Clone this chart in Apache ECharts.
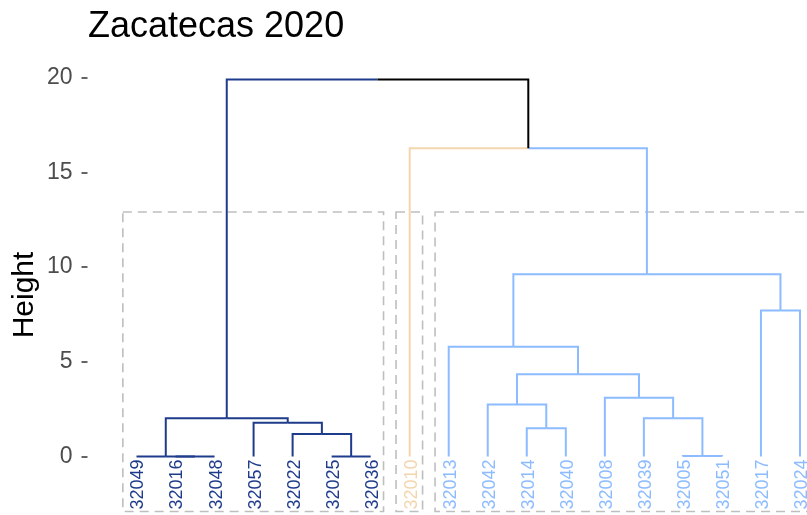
<!DOCTYPE html>
<html><head><meta charset="utf-8">
<script src="https://cdn.jsdelivr.net/npm/echarts@6/dist/echarts.min.js"></script>
<style>html,body{margin:0;padding:0;background:#fff}#c{width:807px;height:515px}</style>
</head><body><div id="c"></div>
<script>
// ---- data ----
const leafLabels = ['32049','32016','32048','32057','32022','32025','32036','32010','32013','32042','32014','32040','32008','32039','32005','32051','32017','32024'];
const leafCluster = [0,0,0,0,0,0,0,1,2,2,2,2,2,2,2,2,2,2];
// hclust-style merges: negative = leaf -(index+1), positive = earlier merge step (1-based)
const mergeLeft   = [-2, -1, -6, -5, -4, 2, -15, -14, -13, -11, -10, 11, -9, -17, 13, -8, 6];
const mergeRight  = [-3,  1, -7,  3,  4, 5, -16,   7,   8, -12,  10,  9, 12, -18, 14, 15, 16];
const mergeHeight = [0, 0, 0, 1.19, 1.78, 2.02, 0.03, 2.02, 3.10, 1.49, 2.75, 4.34, 5.79, 7.70, 9.62, 16.26, 19.9];
const yTicks = [0, 5, 10, 15, 20];
const rectLeafRanges = [[0, 6], [7, 7], [8, 17]];
const rectTopHeight = 12.9;
const rectBottomHeight = -2.9;
const titleText = 'Zacatecas 2020';
const yName = 'Height';

// ---- styles ----
const clusterColors = ['#1F3C8C', '#F4D6AE', '#8CBCFF', '#000000'];
const FONT = '"Liberation Sans", Arial, sans-serif';

// ---- build tree geometry from merges ----
const nodeX = [], nodeH = [], nodeC = [];
function ref(r) {
  if (r < 0) { const i = -r - 1; return { x: i, h: 0, c: leafCluster[i] }; }
  return { x: nodeX[r - 1], h: nodeH[r - 1], c: nodeC[r - 1] };
}
const segments = [];
for (let k = 0; k < mergeLeft.length; k++) {
  const a = ref(mergeLeft[k]), b = ref(mergeRight[k]);
  const x = (a.x + b.x) / 2, h = mergeHeight[k];
  nodeX.push(x); nodeH.push(h); nodeC.push(a.c === b.c ? a.c : 3);
  [a, b].forEach(ch => segments.push([x, h, ch.x, h, ch.x, ch.h, ch.c]));
}
const rects = rectLeafRanges.map(r => [r[0] - 0.35, r[1] + 0.33, rectTopHeight, rectBottomHeight]);
const leaves = leafLabels.map((l, i) => [i, 0, leafCluster[i]]);

const chart = echarts.init(document.getElementById('c'), null, { renderer: 'canvas' });
chart.setOption({
  animation: false,
  backgroundColor: '#fff',
  title: {
    text: titleText, left: 88, top: 9, padding: 0,
    textStyle: { fontSize: 36, fontWeight: 'normal', color: '#000', fontFamily: FONT }
  },
  grid: { left: 87.5, right: -32, top: -17.25, bottom: -36.25, containLabel: false, outerBoundsMode: 'none' },
  xAxis: { type: 'value', min: -1.2555, max: 18, show: false },
  yAxis: {
    type: 'value', min: -5, max: 25, interval: 5,
    splitLine: { show: false },
    axisLine: { show: false, onZero: false },
    axisTick: { show: true, length: 6, lineStyle: { color: '#333', width: 1.5 } },
    axisLabel: {
      color: '#4D4D4D', fontSize: 23, margin: 15, fontFamily: FONT,
      formatter: v => (yTicks.indexOf(v) >= 0 ? String(v) : '')
    }
  },
  graphic: [{
    type: 'text', x: 25, y: 295, rotation: Math.PI / 2,
    style: { text: yName, font: '30px ' + FONT, fill: '#000', textAlign: 'center', textVerticalAlign: 'middle' }
  }],
  series: [
    {
      type: 'custom', clip: false, silent: true, z: 1,
      data: rects,
      renderItem: (p, api) => {
        const p0 = api.coord([api.value(0), api.value(2)]);
        const p1 = api.coord([api.value(1), api.value(3)]);
        return {
          type: 'rect',
          shape: { x: p0[0], y: p0[1], width: p1[0] - p0[0], height: p1[1] - p0[1] },
          style: { fill: 'none', stroke: '#BEBEBE', lineWidth: 1.6, lineDash: [9, 6] }
        };
      }
    },
    {
      type: 'custom', clip: false, silent: true, z: 2,
      data: segments,
      renderItem: (p, api) => {
        const pts = [
          api.coord([api.value(0), api.value(1)]),
          api.coord([api.value(2), api.value(3)]),
          api.coord([api.value(4), api.value(5)])
        ];
        return {
          type: 'polyline', shape: { points: pts },
          style: { fill: null, stroke: clusterColors[api.value(6)], lineWidth: 2 }
        };
      }
    },
    {
      type: 'custom', clip: false, silent: true, z: 3,
      data: leaves,
      renderItem: (p, api) => {
        const c = api.coord([api.value(0), api.value(1)]);
        return {
          type: 'text', x: c[0] + 2, y: c[1] + 3, rotation: Math.PI / 2,
          style: {
            text: leafLabels[p.dataIndex], fill: clusterColors[api.value(2)],
            font: '18px ' + FONT, textAlign: 'right', textVerticalAlign: 'middle'
          }
        };
      }
    }
  ]
});
</script></body></html>
